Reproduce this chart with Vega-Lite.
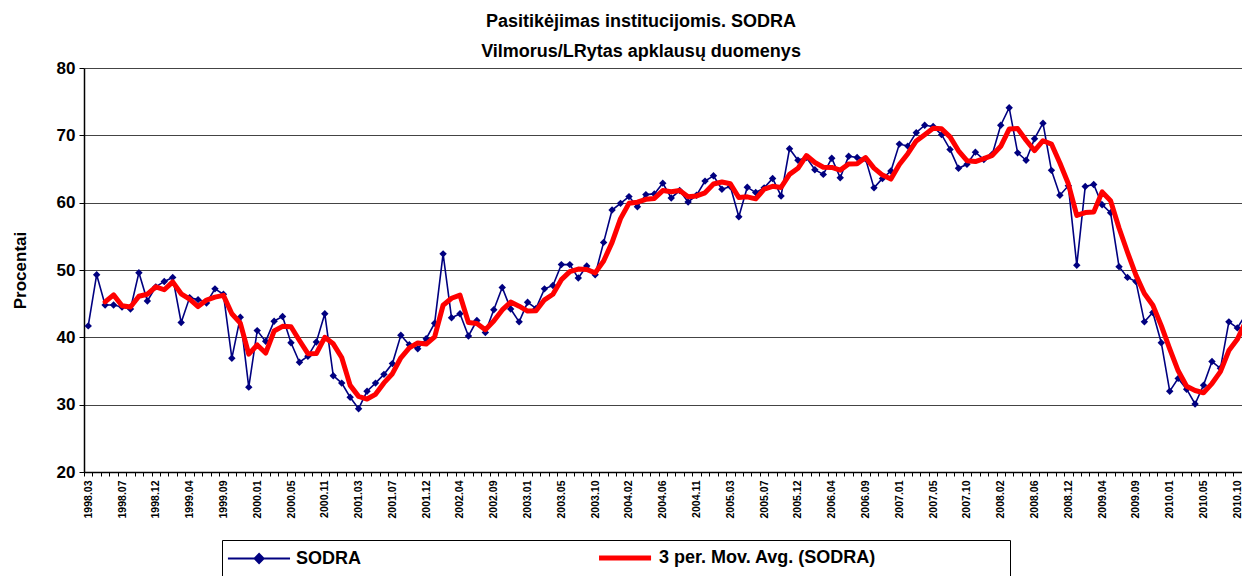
{
  "$schema": "https://vega.github.io/schema/vega-lite/v6.json",
  "width": 1158,
  "height": 404,
  "autosize": {"type": "none"},
  "padding": {"left": 84, "top": 68, "right": 0, "bottom": 104},
  "background": "white",
  "config": {
    "font": "Liberation Sans",
    "view": {"stroke": null}
  },
  "title": {
    "text": ["Pasitikėjimas institucijomis. SODRA", "Vilmorus/LRytas apklausų duomenys"],
    "font": "Liberation Sans",
    "fontSize": 18,
    "fontWeight": "bold",
    "color": "black",
    "lineHeight": 30,
    "anchor": "middle",
    "dx": -22,
    "offset": -2
  },
  "data": {
    "values": [
      {"m": "1998.03", "v": 41.7}, {"m": "1998.04", "v": 49.3}, {"m": "1998.05", "v": 44.8}, {"m": "1998.06", "v": 44.8},
      {"m": "1998.07", "v": 44.5}, {"m": "1998.09", "v": 44.2}, {"m": "1998.10", "v": 49.6}, {"m": "1998.11", "v": 45.4},
      {"m": "1998.12", "v": 47.5}, {"m": "1999.01", "v": 48.3}, {"m": "1999.02", "v": 48.9}, {"m": "1999.03", "v": 42.2},
      {"m": "1999.04", "v": 45.9}, {"m": "1999.05", "v": 45.6}, {"m": "1999.06", "v": 45.1}, {"m": "1999.07", "v": 47.2},
      {"m": "1999.09", "v": 46.4}, {"m": "1999.10", "v": 36.9}, {"m": "1999.11", "v": 43.0}, {"m": "1999.12", "v": 32.6},
      {"m": "2000.01", "v": 41.0}, {"m": "2000.02", "v": 39.4}, {"m": "2000.03", "v": 42.4}, {"m": "2000.04", "v": 43.1},
      {"m": "2000.05", "v": 39.2}, {"m": "2000.06", "v": 36.3}, {"m": "2000.07", "v": 37.2}, {"m": "2000.09", "v": 39.3},
      {"m": "2000.11", "v": 43.5}, {"m": "2000.12", "v": 34.3}, {"m": "2001.01", "v": 33.2}, {"m": "2001.02", "v": 31.1},
      {"m": "2001.03", "v": 29.4}, {"m": "2001.04", "v": 32.0}, {"m": "2001.05", "v": 33.2}, {"m": "2001.06", "v": 34.5},
      {"m": "2001.07", "v": 36.1}, {"m": "2001.09", "v": 40.3}, {"m": "2001.10", "v": 38.9}, {"m": "2001.11", "v": 38.3},
      {"m": "2001.12", "v": 39.8}, {"m": "2002.01", "v": 42.1}, {"m": "2002.02", "v": 52.4}, {"m": "2002.03", "v": 42.9},
      {"m": "2002.04", "v": 43.5}, {"m": "2002.05", "v": 40.2}, {"m": "2002.06", "v": 42.5}, {"m": "2002.07", "v": 40.7},
      {"m": "2002.09", "v": 44.1}, {"m": "2002.10", "v": 47.4}, {"m": "2002.11", "v": 44.2}, {"m": "2002.12", "v": 42.3},
      {"m": "2003.01", "v": 45.2}, {"m": "2003.02", "v": 44.3}, {"m": "2003.03", "v": 47.2}, {"m": "2003.04", "v": 47.7},
      {"m": "2003.05", "v": 50.8}, {"m": "2003.06", "v": 50.8}, {"m": "2003.07", "v": 48.8}, {"m": "2003.09", "v": 50.6},
      {"m": "2003.10", "v": 49.3}, {"m": "2003.11", "v": 54.1}, {"m": "2003.12", "v": 58.9}, {"m": "2004.01", "v": 59.9},
      {"m": "2004.02", "v": 60.9}, {"m": "2004.03", "v": 59.4}, {"m": "2004.04", "v": 61.2}, {"m": "2004.05", "v": 61.3},
      {"m": "2004.06", "v": 62.9}, {"m": "2004.07", "v": 60.7}, {"m": "2004.09", "v": 61.8}, {"m": "2004.10", "v": 60.1},
      {"m": "2004.11", "v": 61.1}, {"m": "2004.12", "v": 63.2}, {"m": "2005.01", "v": 64.0}, {"m": "2005.02", "v": 62.0},
      {"m": "2005.03", "v": 62.4}, {"m": "2005.04", "v": 57.9}, {"m": "2005.05", "v": 62.3}, {"m": "2005.06", "v": 61.5},
      {"m": "2005.07", "v": 62.2}, {"m": "2005.09", "v": 63.6}, {"m": "2005.10", "v": 61.0}, {"m": "2005.11", "v": 68.0},
      {"m": "2005.12", "v": 66.3}, {"m": "2006.01", "v": 66.7}, {"m": "2006.02", "v": 64.9}, {"m": "2006.03", "v": 64.2},
      {"m": "2006.04", "v": 66.6}, {"m": "2006.05", "v": 63.7}, {"m": "2006.06", "v": 66.9}, {"m": "2006.07", "v": 66.7},
      {"m": "2006.09", "v": 66.5}, {"m": "2006.10", "v": 62.2}, {"m": "2006.11", "v": 63.6}, {"m": "2006.12", "v": 64.7},
      {"m": "2007.01", "v": 68.7}, {"m": "2007.02", "v": 68.4}, {"m": "2007.03", "v": 70.4}, {"m": "2007.04", "v": 71.5},
      {"m": "2007.05", "v": 71.3}, {"m": "2007.06", "v": 70.1}, {"m": "2007.07", "v": 67.9}, {"m": "2007.09", "v": 65.1},
      {"m": "2007.10", "v": 65.7}, {"m": "2007.11", "v": 67.5}, {"m": "2007.12", "v": 66.4}, {"m": "2008.01", "v": 67.2},
      {"m": "2008.02", "v": 71.5}, {"m": "2008.03", "v": 74.1}, {"m": "2008.04", "v": 67.4}, {"m": "2008.05", "v": 66.3},
      {"m": "2008.06", "v": 69.5}, {"m": "2008.07", "v": 71.8}, {"m": "2008.09", "v": 64.8}, {"m": "2008.10", "v": 61.1},
      {"m": "2008.12", "v": 62.5}, {"m": "2009.01", "v": 50.7}, {"m": "2009.02", "v": 62.4}, {"m": "2009.03", "v": 62.7},
      {"m": "2009.04", "v": 59.7}, {"m": "2009.05", "v": 58.5}, {"m": "2009.06", "v": 50.5}, {"m": "2009.07", "v": 48.9},
      {"m": "2009.09", "v": 48.3}, {"m": "2009.10", "v": 42.3}, {"m": "2009.11", "v": 43.7}, {"m": "2009.12", "v": 39.2},
      {"m": "2010.01", "v": 32.0}, {"m": "2010.02", "v": 33.9}, {"m": "2010.03", "v": 32.3}, {"m": "2010.04", "v": 30.1},
      {"m": "2010.05", "v": 32.9}, {"m": "2010.06", "v": 36.4}, {"m": "2010.07", "v": 35.4}, {"m": "2010.09", "v": 42.3},
      {"m": "2010.10", "v": 41.4}, {"m": "2010.11", "v": 43.4}
    ]
  },
  "encoding": {
    "x": {
      "field": "m",
      "type": "ordinal",
      "sort": null,
      "scale": {"paddingInner": 0, "paddingOuter": 0, "range": [0, 1166]},
      "axis": {
        "title": null,
        "tickBand": "extent",
        "labelAngle": -90,
        "labelOverlap": false,
        "labelExpr": "indexof(['1998.03','1998.07','1998.12','1999.04','1999.09','2000.01','2000.05','2000.11','2001.03','2001.07','2001.12','2002.04','2002.09','2003.01','2003.05','2003.10','2004.02','2004.06','2004.11','2005.03','2005.07','2005.12','2006.04','2006.09','2007.01','2007.05','2007.10','2008.02','2008.06','2008.12','2009.04','2009.09','2010.01','2010.05','2010.10'], datum.value) >= 0 ? datum.label : ''",
        "labelFont": "Liberation Sans",
        "labelFontSize": 10.5,
        "labelFontWeight": "bold",
        "labelColor": "black",
        "labelPadding": 4,
        "tickColor": "black",
        "tickSize": 4,
        "domainColor": "black",
        "domainWidth": 1.5,
        "grid": false
      }
    },
    "y": {
      "field": "v",
      "type": "quantitative",
      "scale": {"domain": [20, 80], "nice": false, "zero": false},
      "axis": {
        "values": [20, 30, 40, 50, 60, 70, 80],
        "title": "Procentai",
        "titleFont": "Liberation Sans",
        "titleFontSize": 17,
        "titleFontWeight": "bold",
        "titleColor": "black",
        "titlePadding": 27,
        "labelFont": "Liberation Sans",
        "labelFontSize": 17,
        "labelFontWeight": "bold",
        "labelColor": "black",
        "labelPadding": 4,
        "tickColor": "black",
        "tickSize": 5,
        "domainColor": "black",
        "domainWidth": 1.5,
        "grid": true,
        "gridColor": "#444444",
        "gridWidth": 1.2
      }
    }
  },
  "layer": [
    {
      "mark": {
        "type": "line",
        "color": "#000080",
        "strokeWidth": 1.6,
        "clip": true,
        "point": {"shape": "diamond", "filled": true, "size": 55, "color": "#000080", "clip": true}
      },
      "encoding": {
        "color": {
          "datum": "SODRA",
          "type": "nominal",
          "scale": {"domain": ["SODRA", "3 per. Mov. Avg. (SODRA)"], "range": ["#000080", "#FF0000"]},
          "legend": {
            "orient": "none",
            "legendX": 138,
            "legendY": 472,
            "direction": "horizontal",
            "title": " ",
            "titleOrient": "right",
            "titlePadding": 125,
            "titleFontSize": 11,
            "strokeColor": "black",
            "fillColor": "white",
            "padding": 9,
            "symbolSize": 1296,
            "labelFont": "Liberation Sans",
            "labelFontSize": 18,
            "labelFontWeight": "bold",
            "labelColor": "black",
            "labelOffset": 47,
            "labelLimit": 1000,
            "columnPadding": 227,
            "encode": {
              "symbols": {
                "update": {
                  "shape": {"signal": "datum.value === 'SODRA' ? 'M-0.67,0L2.78,0M0.81,0L1.06,-0.25L1.31,0L1.06,0.25Z' : 'M-0.22,0L2.67,0'"},
                  "stroke": {"signal": "datum.value === 'SODRA' ? '#000080' : '#FF0000'"},
                  "fill": {"signal": "datum.value === 'SODRA' ? '#000080' : 'transparent'"},
                  "strokeWidth": {"signal": "datum.value === 'SODRA' ? 2 : 5"},
                  "opacity": {"value": 1}
                }
              }
            }
          }
        }
      }
    },
    {
      "transform": [
        {"window": [{"op": "mean", "field": "v", "as": "ma"}, {"op": "count", "as": "n"}], "frame": [-2, 0], "sort": [{"field": "m"}]},
        {"filter": "datum.n == 3"}
      ],
      "mark": {"type": "line", "color": "#FF0000", "strokeWidth": 5, "strokeJoin": "round", "strokeCap": "round", "clip": true},
      "encoding": {
        "y": {"field": "ma", "type": "quantitative"},
        "color": {"datum": "3 per. Mov. Avg. (SODRA)", "type": "nominal"}
      }
    }
  ]
}
